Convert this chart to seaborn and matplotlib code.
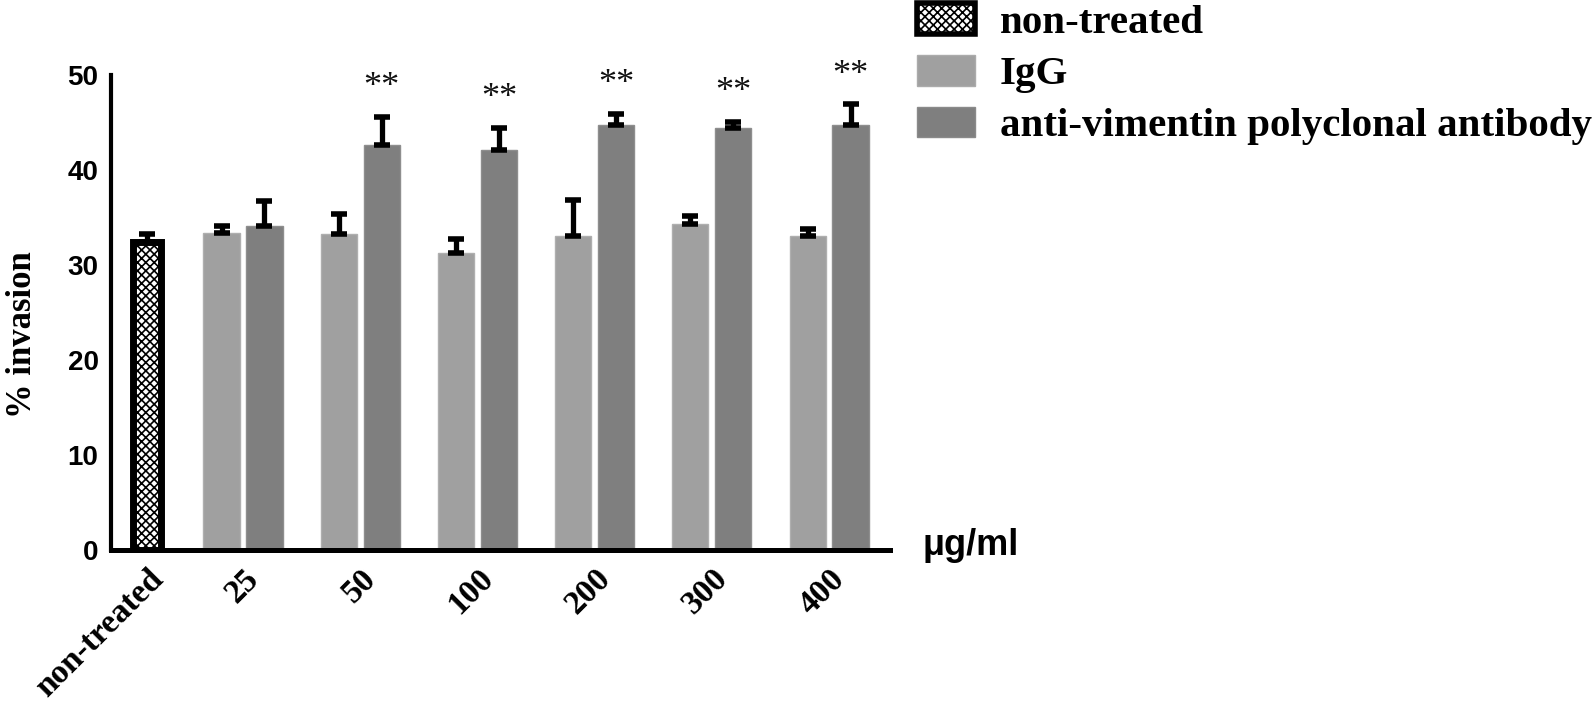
import numpy as np
import pandas as pd
import matplotlib
matplotlib.use("Agg")
import matplotlib.pyplot as plt
import seaborn as sns
from matplotlib.patches import Patch
from matplotlib.font_manager import FontProperties

# ---------------- data ----------------
doses = ["25", "50", "100", "200", "300", "400"]
categories = ["non-treated"] + doses
series_names = ["non-treated", "IgG", "anti-vimentin polyclonal antibody"]
nt_mean = [32.4]
nt_err = [0.9]
igg_mean = [33.4, 33.3, 31.3, 33.1, 34.3, 33.1]
igg_err = [0.7, 2.1, 1.4, 3.7, 0.9, 0.7]
anti_mean = [34.1, 42.6, 42.1, 44.7, 44.4, 44.7]
anti_err = [2.6, 3.0, 2.3, 1.2, 0.7, 2.2]
stars = ["", "**", "**", "**", "**", "**"]
y_ticks = [0, 10, 20, 30, 40, 50]
y_label = "% invasion"
unit_label = "μg/ml"

# ---------------- style ----------------
sns.set_theme(style="white")
plt.rcParams["hatch.linewidth"] = 1.2
plt.rcParams["font.family"] = ["Liberation Sans", "DejaVu Sans"]
plt.rcParams["text.color"] = "black"
plt.rcParams["axes.labelcolor"] = "black"
plt.rcParams["xtick.color"] = "black"
plt.rcParams["ytick.color"] = "black"

c_igg = "#a0a0a0"
c_anti = "#7f7f7f"
serif = "Liberation Serif"

fig = plt.figure(figsize=(15.93, 7.01), dpi=100)
ax = fig.add_axes([111 / 1593, 151 / 701, (890 - 111) / 1593, (550 - 75) / 701])

W = 0.733
NT_GAP = 0.35
df = pd.DataFrame({
    "dose": doses * 2,
    "series": [series_names[1]] * len(doses) + [series_names[2]] * len(doses),
    "value": igg_mean + anti_mean,
})
sns.barplot(data=df, x="dose", y="value", hue="series", order=categories,
            hue_order=series_names[1:], palette=[c_igg, c_anti], width=W,
            gap=0.16, errorbar=None, legend=False, ax=ax, zorder=2)
n_before = len(ax.patches)
for p in ax.patches:
    fc = p.get_facecolor()
    p.set_edgecolor((min(fc[0] + 0.06, 1), min(fc[1] + 0.06, 1), min(fc[2] + 0.06, 1), 1))
    p.set_linewidth(1.0)

off = W / 4
df_nt = pd.DataFrame({"dose": [categories[0]], "series": [series_names[0]], "value": nt_mean})
sns.barplot(data=df_nt, x="dose", y="value", hue="series", order=categories,
            hue_order=["pad", series_names[0]], palette=["white", "white"], width=W,
            gap=NT_GAP, dodge=True, errorbar=None, legend=False, ax=ax, zorder=2)
bw = W / 2 * (1 - NT_GAP)
for p in ax.patches[n_before:]:
    p.set_x(0 + off - bw / 2)
    p.set_width(bw)
    p.set_facecolor("white")
    p.set_edgecolor("black")
    p.set_linewidth(5)
    p.set_hatch("xxxx")

# error bars (upper only)
x_idx = np.arange(1, len(doses) + 1)
eb_kw = dict(fmt="none", ecolor="black", elinewidth=3.8, capsize=5.5, capthick=4, zorder=3)
ax.errorbar([0 + off], nt_mean, yerr=[[0], nt_err], **eb_kw)
ax.errorbar(x_idx - off, igg_mean, yerr=[np.zeros(len(doses)), igg_err], **eb_kw)
ax.errorbar(x_idx + off, anti_mean, yerr=[np.zeros(len(doses)), anti_err], **eb_kw)

for i, s in enumerate(stars):
    if s:
        ax.text(x_idx[i] + off, anti_mean[i] + anti_err[i] + 2.2, s, ha="center",
                va="baseline", fontsize=26, family=serif, color="#111111", clip_on=False)

# axes
ax.set_xlim(-0.126, 6.52)
ax.set_ylim(0, 50)
ax.set_yticks(y_ticks)
ax.set_yticklabels([str(t) for t in y_ticks], fontsize=20, fontweight="bold",
                   family="Liberation Sans")
ax.set_xticks([0 + off] + list(x_idx))
ax.set_xticklabels(categories, rotation=45, ha="right", rotation_mode="anchor",
                   fontsize=24, fontweight="bold", family=serif)
ax.tick_params(axis="y", direction="in", length=10, width=3, pad=9, colors="black")
ax.tick_params(axis="x", length=0, pad=9.5, colors="black")
for side in ["top", "right"]:
    ax.spines[side].set_visible(False)
ax.spines["left"].set_linewidth(3)
ax.spines["bottom"].set_linewidth(3.6)
ax.spines["left"].set_color("black")
ax.spines["bottom"].set_color("black")
ax.set_xlabel("")
ax.set_ylabel(y_label, fontsize=25, fontweight="bold", family=serif, va="center",
              color="black")
ax.yaxis.set_label_coords(-0.113, 0.453)
ax.grid(False)

fig.text(922 / 1593, 1 - 555 / 701, unit_label, ha="left", va="baseline",
         fontsize=26, fontweight="bold", family="Liberation Sans", color="black")

handles = [
    Patch(facecolor="white", edgecolor="black", hatch="xxxx", linewidth=4),
    Patch(facecolor=c_igg, edgecolor="#ababab", linewidth=1),
    Patch(facecolor=c_anti, edgecolor="#8a8a8a", linewidth=1),
]
leg = fig.legend(handles, series_names, loc="upper left",
                 bbox_to_anchor=(917 / 1593, 1 - 3 / 701),
                 frameon=False, prop=FontProperties(family=serif, weight="bold", size=29.5),
                 handlelength=1.42, handleheight=0.78, handletextpad=0.6, labelspacing=0.32,
                 borderpad=0, borderaxespad=0)
for t in leg.get_texts():
    t.set_color("black")

fig.savefig("out.png", dpi=100)
